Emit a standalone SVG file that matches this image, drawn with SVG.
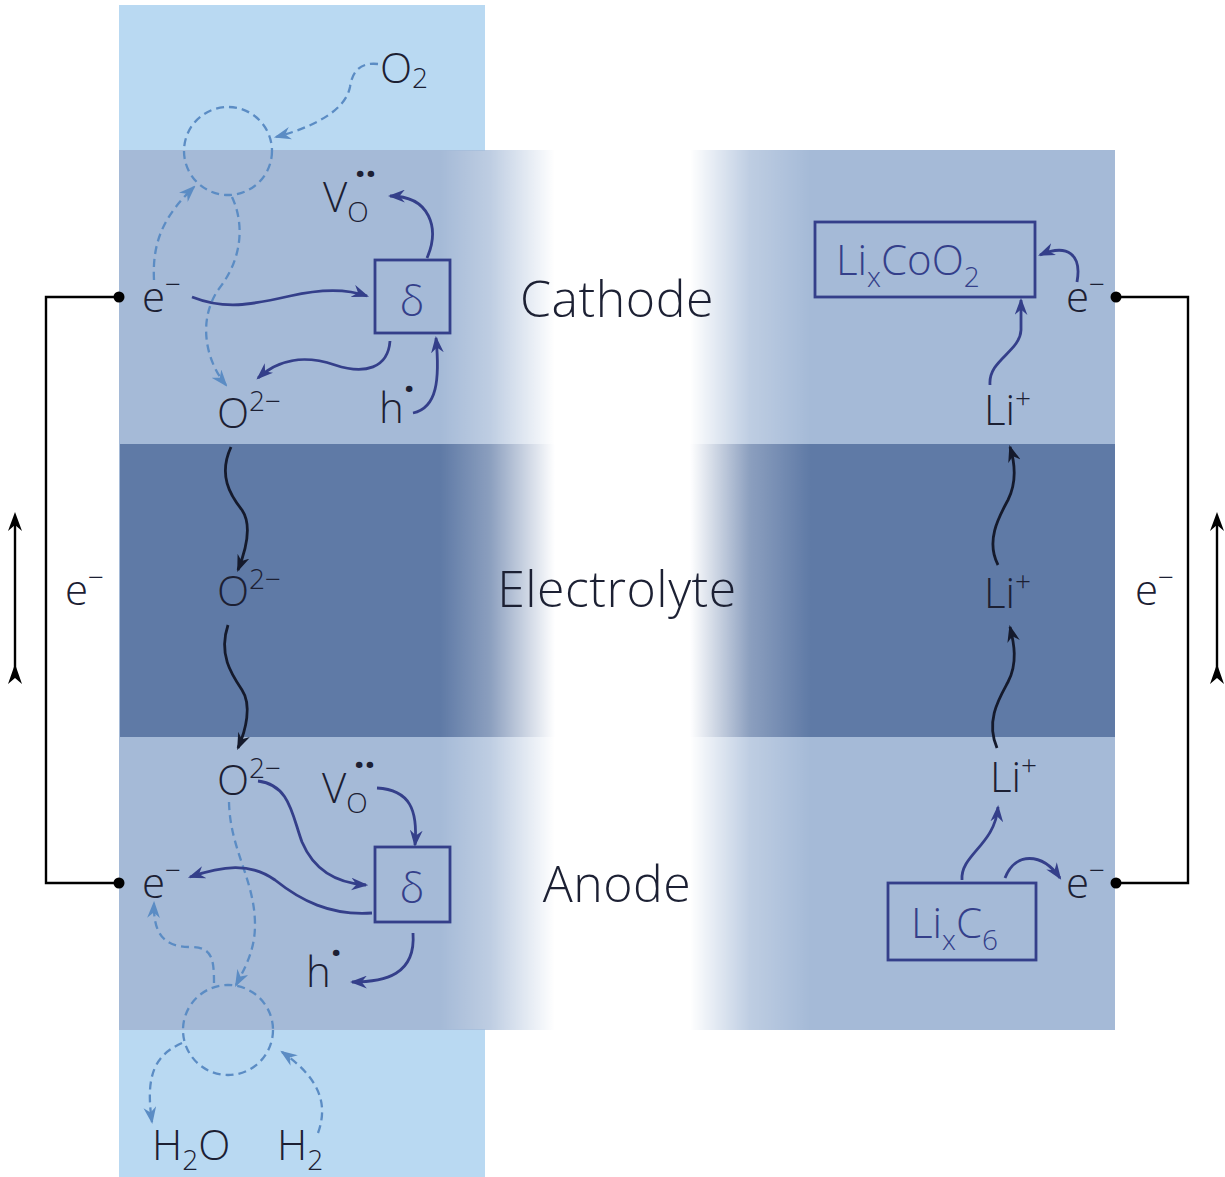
<svg xmlns="http://www.w3.org/2000/svg" width="1225" height="1177" viewBox="0 0 1225 1177">
<style>
.t{font-family:"Open Sans","Noto Sans",sans-serif;font-weight:350;fill:#1c2033;font-size:42px}
.s{font-size:28px}
.lab{font-size:50px;text-anchor:middle;letter-spacing:0.5px}
.bl{fill:#343f8a}
.sb{fill:none;stroke:#343f8a;stroke-width:2.8;marker-end:url(#ab)}
.sd{fill:none;stroke:#5b8cc4;stroke-width:2.3;stroke-dasharray:8 5;marker-end:url(#ad)}
.sk{fill:none;stroke:#151a2c;stroke-width:2.8;marker-end:url(#ak)}
.box{fill:none;stroke:#343f8a;stroke-width:2.8}
.w{fill:none;stroke:#000;stroke-width:2.4}
</style>
<defs>
<linearGradient id="fade" gradientUnits="userSpaceOnUse" x1="120" y1="0" x2="1115" y2="0">
<stop offset="0.322" stop-color="#fff"/>
<stop offset="0.372" stop-color="#b8b8b8"/>
<stop offset="0.437" stop-color="#000"/>
<stop offset="0.573" stop-color="#000"/>
<stop offset="0.633" stop-color="#b8b8b8"/>
<stop offset="0.694" stop-color="#fff"/>
</linearGradient>
<mask id="m" maskUnits="userSpaceOnUse" x="0" y="0" width="1225" height="1177">
<rect x="120" y="150" width="995" height="880" fill="url(#fade)"/>
</mask>
<marker id="ab" viewBox="0 0 16 12" refX="14" refY="6" markerWidth="17" markerHeight="13" markerUnits="userSpaceOnUse" orient="auto"><path d="M0,0 L16,6 L0,12 L5,6 Z" fill="#343f8a"/></marker>
<marker id="ad" viewBox="0 0 16 12" refX="14" refY="6" markerWidth="17" markerHeight="13" markerUnits="userSpaceOnUse" orient="auto"><path d="M0,0 L16,6 L0,12 L5,6 Z" fill="#5b8cc4"/></marker>
<marker id="ak" viewBox="0 0 16 12" refX="14" refY="6" markerWidth="17" markerHeight="13" markerUnits="userSpaceOnUse" orient="auto"><path d="M0,0 L16,6 L0,12 L5,6 Z" fill="#151a2c"/></marker>
</defs>
<rect width="1225" height="1177" fill="#fff"/>
<g id="background">
<rect x="119" y="5" width="366" height="146" fill="#b9d9f2"/>
<rect x="119" y="1029" width="366" height="148" fill="#b9d9f2"/>
<rect x="119" y="150" width="2" height="880" fill="#a5bad7"/>
<g mask="url(#m)">
<rect x="120" y="150" width="995" height="294" fill="#a5bad7"/>
<rect x="120" y="444" width="995" height="293" fill="#5f7aa6"/>
<rect x="120" y="737" width="995" height="293" fill="#a5bad7"/>
</g>
</g>
<g id="labels">
<text class="t lab" x="617" y="317">Cathode</text>
<text class="t lab" x="617" y="607">Electrolyte</text>
<text class="t lab" x="617" y="902">Anode</text>
</g>
<g id="circuit">
<path class="w" d="M119,297 H46 V883 H119"/>
<path class="w" d="M1116,297 H1188 V883 H1116"/>
<circle cx="119" cy="297" r="5.5"/>
<circle cx="119" cy="883" r="5.5"/>
<circle cx="1116" cy="297" r="5.5"/>
<circle cx="1116" cy="883" r="5.5"/>
<path d="M15,520 V676" stroke="#000" stroke-width="2.4"/>
<path d="M15,512 L8,531 L15,525 L22,531 Z"/>
<path d="M15,664 L8,684 L15,678 L22,684 Z"/>
<path d="M1217,520 V676" stroke="#000" stroke-width="2.4"/>
<path d="M1217,512 L1210,531 L1217,525 L1224,531 Z"/>
<path d="M1217,664 L1210,684 L1217,678 L1224,684 Z"/>
<text class="t" x="65" y="605" font-size="44">e<tspan class="s" dy="-18">−</tspan></text>
<text class="t" x="1135" y="605" font-size="44">e<tspan class="s" dy="-18">−</tspan></text>
</g>
<g id="cathode-left">
<text class="t" x="380" y="83" font-size="46">O<tspan class="s" dy="5" font-size="30">2</tspan></text>
<circle cx="228" cy="151" r="44" fill="none" stroke="#5b8cc4" stroke-width="2.3" stroke-dasharray="8 5"/>
<text class="t" x="142" y="312" font-size="44">e<tspan class="s" dy="-18">−</tspan></text>
<rect class="box" x="375" y="260" width="75" height="73"/>
<text class="t bl" x="412" y="316" font-size="50" text-anchor="middle">δ</text>
<text class="t" x="323" y="212">V<tspan class="s" dy="10">O</tspan><tspan dx="-14" dy="-35" font-size="38" font-weight="700">··</tspan></text>
<text class="t" x="217" y="428">O<tspan class="s" dy="-17" font-size="26">2−</tspan></text>
<text class="t" x="379" y="423">h<tspan dy="-21" font-size="38" font-weight="700">·</tspan></text>
</g>
<g id="electrolyte-left">
<text class="t" x="217" y="606">O<tspan class="s" dy="-17" font-size="26">2−</tspan></text>
</g>
<g id="anode-left">
<text class="t" x="217" y="795">O<tspan class="s" dy="-17" font-size="26">2−</tspan></text>
<text class="t" x="322" y="803">V<tspan class="s" dy="10">O</tspan><tspan dx="-14" dy="-35" font-size="38" font-weight="700">··</tspan></text>
<rect class="box" x="375" y="847" width="75" height="75"/>
<text class="t bl" x="412" y="903" font-size="50" text-anchor="middle">δ</text>
<text class="t" x="142" y="898" font-size="44">e<tspan class="s" dy="-18">−</tspan></text>
<text class="t" x="306" y="987">h<tspan dy="-21" font-size="38" font-weight="700">·</tspan></text>
<circle cx="228" cy="1030" r="45" fill="none" stroke="#5b8cc4" stroke-width="2.3" stroke-dasharray="8 5"/>
<text class="t" x="152" y="1160">H<tspan class="s" dy="10" font-size="30">2</tspan><tspan dy="-10">O</tspan></text>
<text class="t" x="277" y="1160">H<tspan class="s" dy="10" font-size="30">2</tspan></text>
</g>
<g id="cathode-right">
<rect class="box" x="815" y="222" width="220" height="75"/>
<text class="t bl" x="836" y="275" font-size="48">Li<tspan class="s" dy="12" font-size="30">x</tspan><tspan dy="-12">CoO</tspan><tspan class="s" dy="12" font-size="30">2</tspan></text>
<text class="t" x="1066" y="312" font-size="44">e<tspan class="s" dy="-18">−</tspan></text>
<text class="t" x="984" y="425">Li<tspan class="s" dy="-17" font-size="24">+</tspan></text>
</g>
<g id="electrolyte-right">
<text class="t" x="984" y="608">Li<tspan class="s" dy="-17" font-size="24">+</tspan></text>
</g>
<g id="anode-right">
<text class="t" x="990" y="792">Li<tspan class="s" dy="-17" font-size="24">+</tspan></text>
<rect class="box" x="888" y="883" width="148" height="77"/>
<text class="t bl" x="911" y="938" font-size="48">Li<tspan class="s" dy="12" font-size="30">x</tspan><tspan dy="-12">C</tspan><tspan class="s" dy="12" font-size="30">6</tspan></text>
<text class="t" x="1066" y="898" font-size="44">e<tspan class="s" dy="-18">−</tspan></text>
</g>
<g id="connectors">
<path class="sd" d="M378,64 C360,62 352,72 350,87 C345,112 310,128 276,137"/>
<path class="sd" d="M154,280 C152,240 165,215 194,187"/>
<path class="sd" d="M232,197 C245,225 242,260 218,290 C198,320 205,360 226,385"/>
<path class="sd" d="M229,802 C230,850 255,880 255,925 C255,950 245,968 236,985"/>
<path class="sd" d="M214,983 C214,958 212,947 190,947 C165,947 153,935 154,903"/>
<path class="sd" d="M182,1043 C155,1055 145,1075 152,1122"/>
<path class="sd" d="M318,1133 C330,1100 315,1075 282,1052"/>
<path class="sb" d="M192,297 C225,310 250,305 290,296 C320,289 345,288 367,296"/>
<path class="sb" d="M427,258 C440,228 430,196 390,196"/>
<path class="sb" d="M390,341 C388,368 365,375 335,365 C305,355 280,358 258,378"/>
<path class="sb" d="M413,413 C437,408 440,380 436,338"/>
<path class="sb" d="M377,788 C410,790 418,810 415,845"/>
<path class="sb" d="M258,781 C290,785 292,815 302,842 C313,868 335,883 366,885"/>
<path class="sb" d="M372,913 C330,916 300,900 275,880 C250,862 222,866 190,877"/>
<path class="sb" d="M413,933 C416,975 385,982 352,982"/>
<path class="sb" d="M1077,282 C1082,255 1068,243 1040,255"/>
<path class="sb" d="M990,385 C988,360 1020,352 1021,330 L1021,300"/>
<path class="sb" d="M962,880 C960,855 995,845 998,807"/>
<path class="sb" d="M1005,878 C1015,852 1042,852 1060,878"/>
<path class="sk" d="M231,447 C218,475 230,495 242,510 C252,525 246,550 238,570"/>
<path class="sk" d="M228,625 C218,655 232,675 242,690 C252,705 246,730 238,748"/>
<path class="sk" d="M998,565 C985,540 1000,515 1008,500 C1018,480 1014,460 1010,447"/>
<path class="sk" d="M997,748 C985,720 1000,697 1008,682 C1018,663 1014,643 1010,627"/>
</g>
</svg>
